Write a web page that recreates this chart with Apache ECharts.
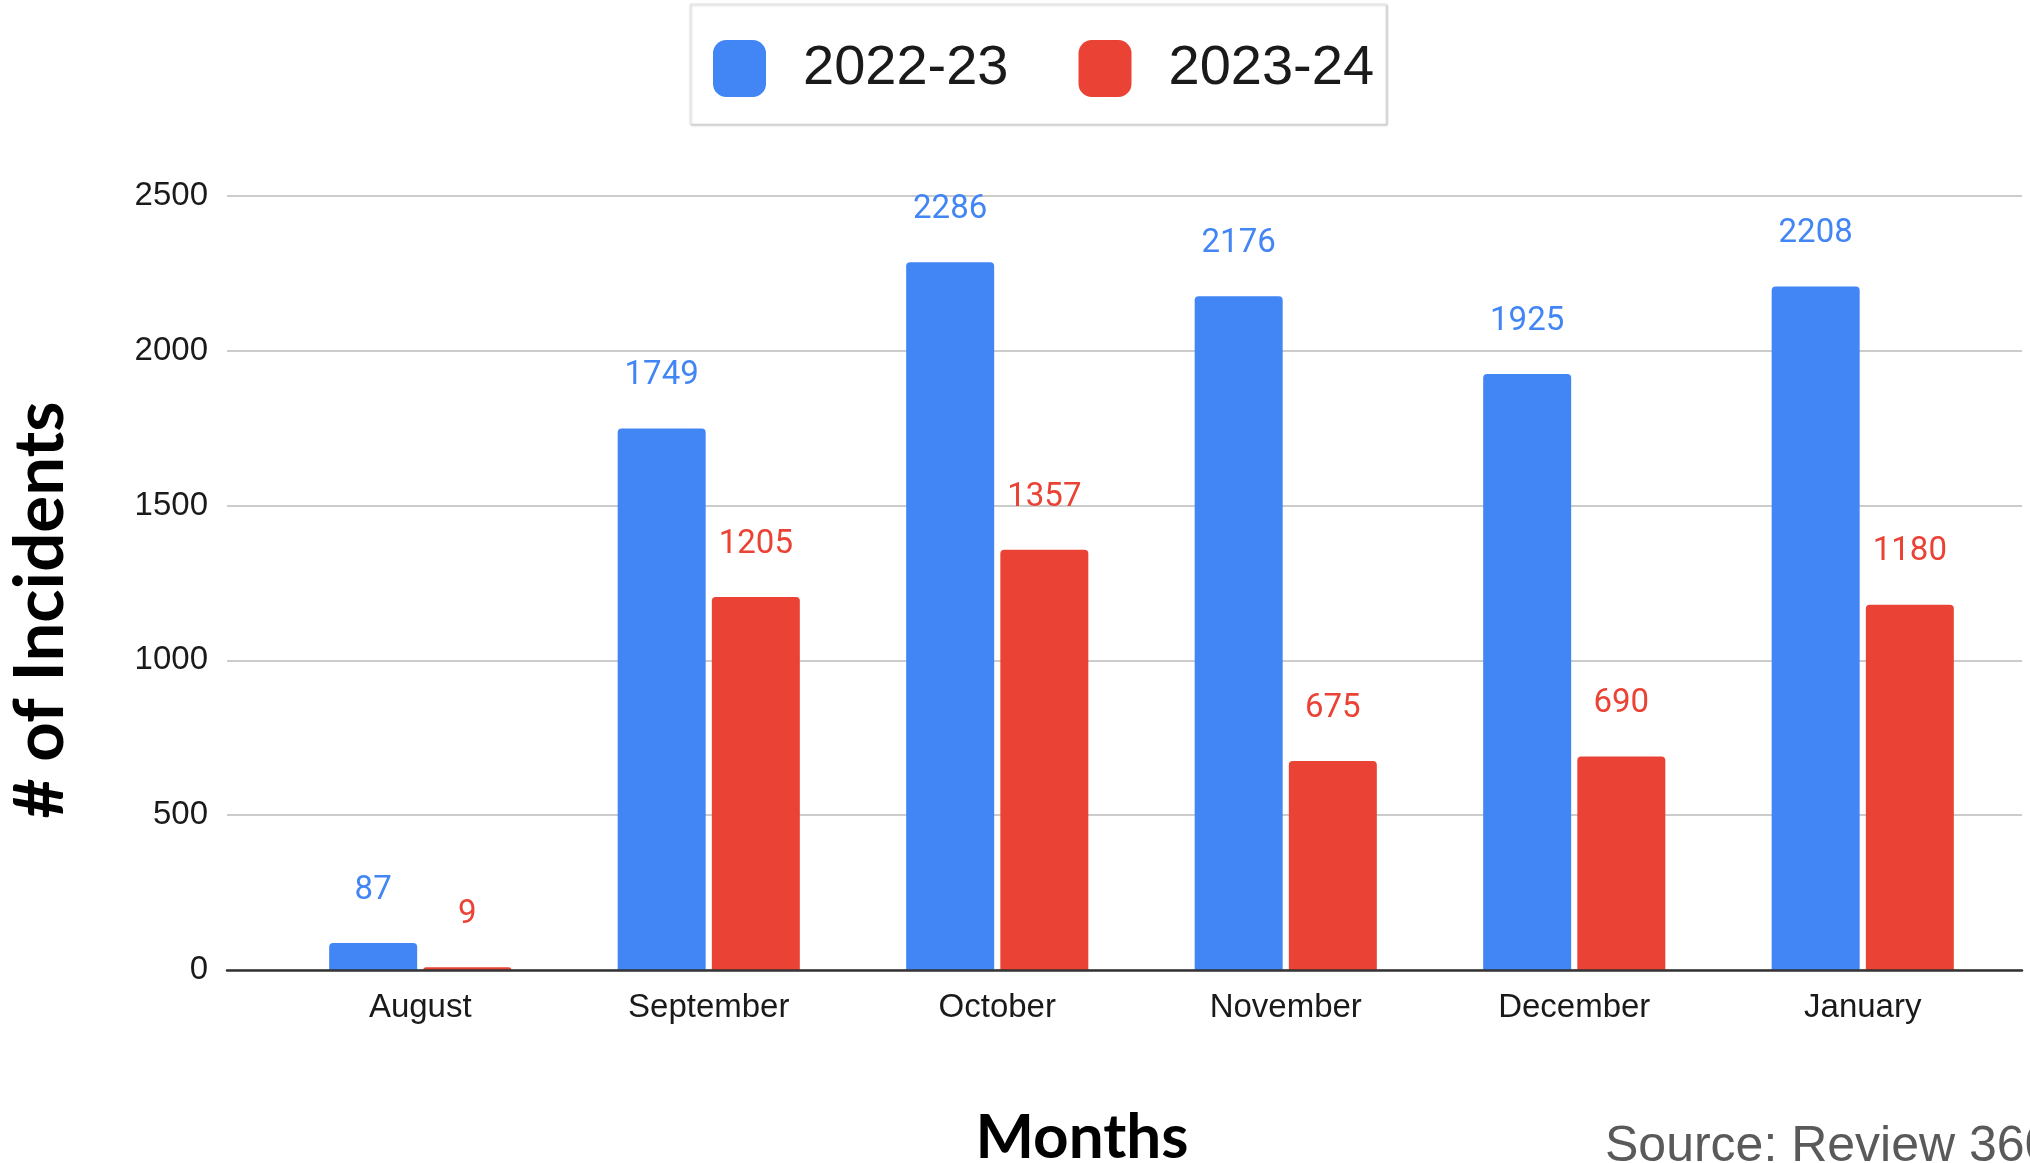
<!DOCTYPE html>
<html>
<head>
<meta charset="utf-8">
<title># of Incidents by Month</title>
<script src="https://cdn.jsdelivr.net/npm/echarts@6/dist/echarts.min.js"></script>
<style>
  html, body { margin: 0; padding: 0; background: #fff; }
  #chart { width: 2030px; height: 1163px; }
</style>
</head>
<body>
<div id="chart"></div>
<script>
// Monthly incident counts, two school years side by side
const months = ['August', 'September', 'October', 'November', 'December', 'January'];
const seriesNames = ['2022-23', '2023-24'];
const incidents2022 = [87, 1749, 2286, 2176, 1925, 2208];
const incidents2023 = [9, 1205, 1357, 675, 690, 1180];
const yTicks = [0, 500, 1000, 1500, 2000, 2500];

const BLUE = '#4285F4';
const RED = '#EA4335';
const yMin = yTicks[0];
const yMax = yTicks[yTicks.length - 1];
const yStep = yTicks[1] - yTicks[0];

const chart = echarts.init(document.getElementById('chart'), null, { renderer: 'canvas' });

function barSeries(name, data, color) {
  return {
    name: name,
    type: 'bar',
    xAxisIndex: 0,
    yAxisIndex: 0,
    data: data,
    barWidth: 88,
    barGap: '7%',
    itemStyle: { color: color, borderRadius: [4, 4, 0, 0] },
    label: {
      show: true,
      position: 'top',
      distance: 36,
      color: color,
      fontFamily: 'Roboto',
      fontSize: 33
    },
    z: 3
  };
}

chart.setOption({
  animation: false,
  backgroundColor: '#ffffff',
  legend: {
    data: seriesNames,
    left: 690,
    top: 4,
    orient: 'horizontal',
    icon: 'roundRect',
    itemWidth: 53,
    itemHeight: 57,
    itemGap: 70,
    padding: [36, 12, 27, 23],
    backgroundColor: '#ffffff',
    borderColor: '#e6e6e6',
    borderWidth: 1,
    shadowColor: 'rgba(0,0,0,0.25)',
    shadowBlur: 2,
    shadowOffsetX: 1,
    shadowOffsetY: 1,
    textStyle: {
      fontFamily: 'Liberation Sans',
      fontSize: 56,
      color: '#1a1a1a',
      padding: [0, 0, 0, 32]
    }
  },
  grid: [
    // bar area: category bands
    { left: 276, right: 23, top: 196, bottom: 193 },
    // full-width frame carrying the gridlines and baseline
    { left: 227, right: 8, top: 196, bottom: 193 }
  ],
  xAxis: [
    {
      type: 'category',
      gridIndex: 0,
      data: months,
      axisLine: { show: false },
      axisTick: { show: false },
      axisLabel: {
        margin: 21,
        color: '#1a1a1a',
        fontFamily: 'Liberation Sans',
        fontSize: 33
      }
    },
    {
      type: 'value',
      gridIndex: 1,
      min: 0,
      max: 1,
      z: 10,
      axisLine: { show: true, lineStyle: { color: '#333333', width: 2.5 } },
      axisTick: { show: false },
      axisLabel: { show: false },
      splitLine: { show: false }
    }
  ],
  yAxis: [
    {
      type: 'value',
      gridIndex: 0,
      min: yMin,
      max: yMax,
      interval: yStep,
      axisLine: { show: false },
      axisTick: { show: false },
      axisLabel: { show: false },
      splitLine: { show: false }
    },
    {
      type: 'value',
      gridIndex: 1,
      min: yMin,
      max: yMax,
      interval: yStep,
      axisLine: { show: false },
      axisTick: { show: false },
      axisLabel: {
        margin: 19,
        color: '#1a1a1a',
        fontFamily: 'Liberation Sans',
        fontSize: 33,
        formatter: function (v) { return String(v); }
      },
      splitLine: { show: true, lineStyle: { color: '#cccccc', width: 2 } }
    }
  ],
  series: [
    barSeries(seriesNames[0], incidents2022, BLUE),
    barSeries(seriesNames[1], incidents2023, RED)
  ],
  graphic: [
    {
      type: 'text',
      x: 41,
      y: 610,
      rotation: Math.PI / 2,
      style: {
        text: '# of Incidents',
        font: 'bold 69px Lato',
        fill: '#000000',
        textAlign: 'center',
        textVerticalAlign: 'middle'
      }
    },
    {
      type: 'text',
      x: 1082,
      y: 1138,
      style: {
        text: 'Months',
        font: 'bold 62px Lato',
        fill: '#000000',
        textAlign: 'center',
        textVerticalAlign: 'middle'
      }
    },
    {
      type: 'text',
      x: 1605,
      y: 1147,
      style: {
        text: 'Source: Review 360',
        font: '50px "Liberation Sans"',
        fill: '#5a5a5a',
        textAlign: 'left',
        textVerticalAlign: 'middle'
      }
    }
  ]
});
</script>
</body>
</html>
